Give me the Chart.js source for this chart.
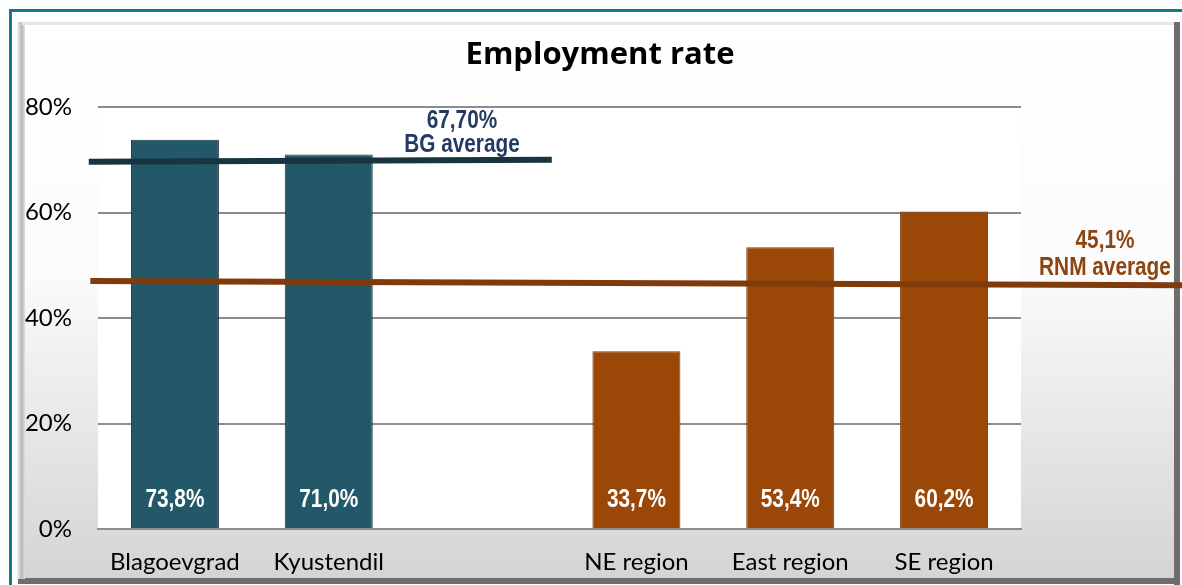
<!DOCTYPE html>
<html>
<head>
<meta charset="utf-8">
<script src="https://cdn.jsdelivr.net/npm/chart.js@4"></script>
<style>
  html, body { margin: 0; padding: 0; background: #fff; }
  #wrap { width: 1182px; height: 585px; }
</style>
</head>
<body>
<div id="wrap"><canvas id="chart"></canvas></div>
<script>
// data
const categories = ["Blagoevgrad", "Kyustendil", "", "NE region", "East region", "SE region"];
const rates = [73.8, 71.0, null, 33.7, 53.4, 60.2];
const rateLabels = ["73,8%", "71,0%", "", "33,7%", "53,4%", "60,2%"];
const yTicks = [0, 20, 40, 60, 80];

// average lines, x in category index units, y in %
const bgAvgX = [-0.56, 2.45];
const bgAvgY = [69.6, 70.0];
const rnmAvgX = [-0.55, 6.6];
const rnmAvgY = [47.0, 46.2];
const bgAvgText = ["67,70%", "BG average"];
const rnmAvgText = ["45,1%", "RNM average"];

const TEAL = "#225867";
const BROWN = "#9a4708";

// Arial Narrow isn't around, so squeeze Liberation Sans bold instead
function narrowText(ctx, text, x, y) {
  ctx.save();
  ctx.translate(x, y);
  ctx.scale(0.8, 1);
  ctx.fillText(text, 0, 0);
  ctx.restore();
}

const frame = {
  id: "frame",
  beforeDraw(chart) {
    const ctx = chart.ctx;
    const W = chart.width, H = chart.height;
    const a = chart.chartArea;
    ctx.save();
    ctx.fillStyle = "#fff";
    ctx.fillRect(0, 0, W, H);
    // teal outer border
    ctx.fillStyle = "#167a82";
    ctx.fillRect(9, 9, W - 9, 3);
    ctx.fillRect(9, 9, 3, H - 9);
    // panel shadow right/bottom
    ctx.fillStyle = "#6e6e6e";
    ctx.fillRect(1174, 22, 6, H - 22);
    ctx.fillRect(18, 578, 1162, 6);
    // left bevel
    const lg = ctx.createLinearGradient(17, 0, 25, 0);
    lg.addColorStop(0, "#f2f2f2");
    lg.addColorStop(0.6, "#b8b8b8");
    lg.addColorStop(1, "#e0e0e0");
    ctx.fillStyle = lg;
    ctx.fillRect(17, 22, 8, 557);
    // top bevel
    ctx.fillStyle = "#e6e6e6";
    ctx.fillRect(22, 22, 1152, 3);
    // panel gradient
    const g = ctx.createLinearGradient(0, 25, 0, 578);
    g.addColorStop(0, "#ffffff");
    g.addColorStop(0.45, "#fbfbfb");
    g.addColorStop(1, "#d4d4d4");
    ctx.fillStyle = g;
    ctx.fillRect(25, 25, 1149, 553);
    // plot area
    ctx.fillStyle = "#fff";
    ctx.fillRect(a.left, a.top, a.right - a.left, a.bottom - a.top);
    // title
    ctx.fillStyle = "#000";
    ctx.font = "bold 31px 'Open Sans', 'Noto Sans', sans-serif";
    ctx.textAlign = "center";
    ctx.textBaseline = "middle";
    ctx.fillText("Employment rate", 600, 55);
    ctx.restore();
  },
  afterDatasetsDraw(chart) {
    const ctx = chart.ctx;
    const xs = chart.scales.x, ys = chart.scales.y;
    ctx.save();
    ctx.textAlign = "center";
    ctx.textBaseline = "middle";
    ctx.font = "bold 26px 'Liberation Sans', sans-serif";
    // bar value labels
    ctx.fillStyle = "#fff";
    rateLabels.forEach((t, i) => {
      if (!t) return;
      narrowText(ctx, t, xs.getPixelForValue(i), ys.getPixelForValue(0) - 29);
    });
    // average lines
    const seg = (xArr, yArr, color) => {
      ctx.beginPath();
      ctx.moveTo(xs.getPixelForValue(xArr[0]), ys.getPixelForValue(yArr[0]));
      ctx.lineTo(xs.getPixelForValue(xArr[1]), ys.getPixelForValue(yArr[1]));
      ctx.strokeStyle = color;
      ctx.lineWidth = 6;
      ctx.stroke();
    };
    seg(bgAvgX, bgAvgY, "#17343f");
    seg(rnmAvgX, rnmAvgY, "#7f3b0a");
    // average labels
    ctx.fillStyle = "#233a63";
    narrowText(ctx, bgAvgText[0], xs.getPixelForValue(1.866), ys.getPixelForValue(77.3));
    narrowText(ctx, bgAvgText[1], xs.getPixelForValue(1.866), ys.getPixelForValue(72.8));
    ctx.fillStyle = "#8e4410";
    narrowText(ctx, rnmAvgText[0], xs.getPixelForValue(6.046), ys.getPixelForValue(54.6));
    narrowText(ctx, rnmAvgText[1], xs.getPixelForValue(6.046), ys.getPixelForValue(49.5));
    ctx.restore();
  }
};

new Chart(document.getElementById("chart"), {
  type: "bar",
  data: {
    labels: categories,
    datasets: [{
      data: rates,
      backgroundColor: [TEAL, TEAL, TEAL, BROWN, BROWN, BROWN],
      borderColor: ["#1f3038", "#1f3038", "#1f3038", "#7a3a08", "#7a3a08", "#7a3a08"],
      borderWidth: 1,
      categoryPercentage: 1,
      barPercentage: 0.572
    }]
  },
  options: {
    responsive: true,
    maintainAspectRatio: false,
    animation: false,
    layout: { padding: { left: 20, right: 161, top: 107, bottom: 0 } },
    plugins: {
      legend: { display: false },
      tooltip: { enabled: false }
    },
    scales: {
      x: {
        grid: { display: false, drawTicks: false },
        border: { display: true, color: "#8c8c8c", width: 2 },
        ticks: { color: "#000", font: { family: "Lato", size: 24 }, padding: 19, maxRotation: 0, autoSkip: false },
        afterFit(s) { s.height = 56; }
      },
      y: {
        min: 0,
        max: 80,
        afterBuildTicks(s) { s.ticks = yTicks.map(v => ({ value: v })); },
        grid: { color: "#8c8c8c", lineWidth: 2, drawTicks: false },
        border: { display: false },
        ticks: {
          color: "#000",
          font: { family: "Lato", size: 24 },
          padding: 26,
          callback: v => v + "%"
        },
        afterFit(s) { s.width = 78; }
      }
    }
  },
  plugins: [frame]
});
</script>
</body>
</html>
